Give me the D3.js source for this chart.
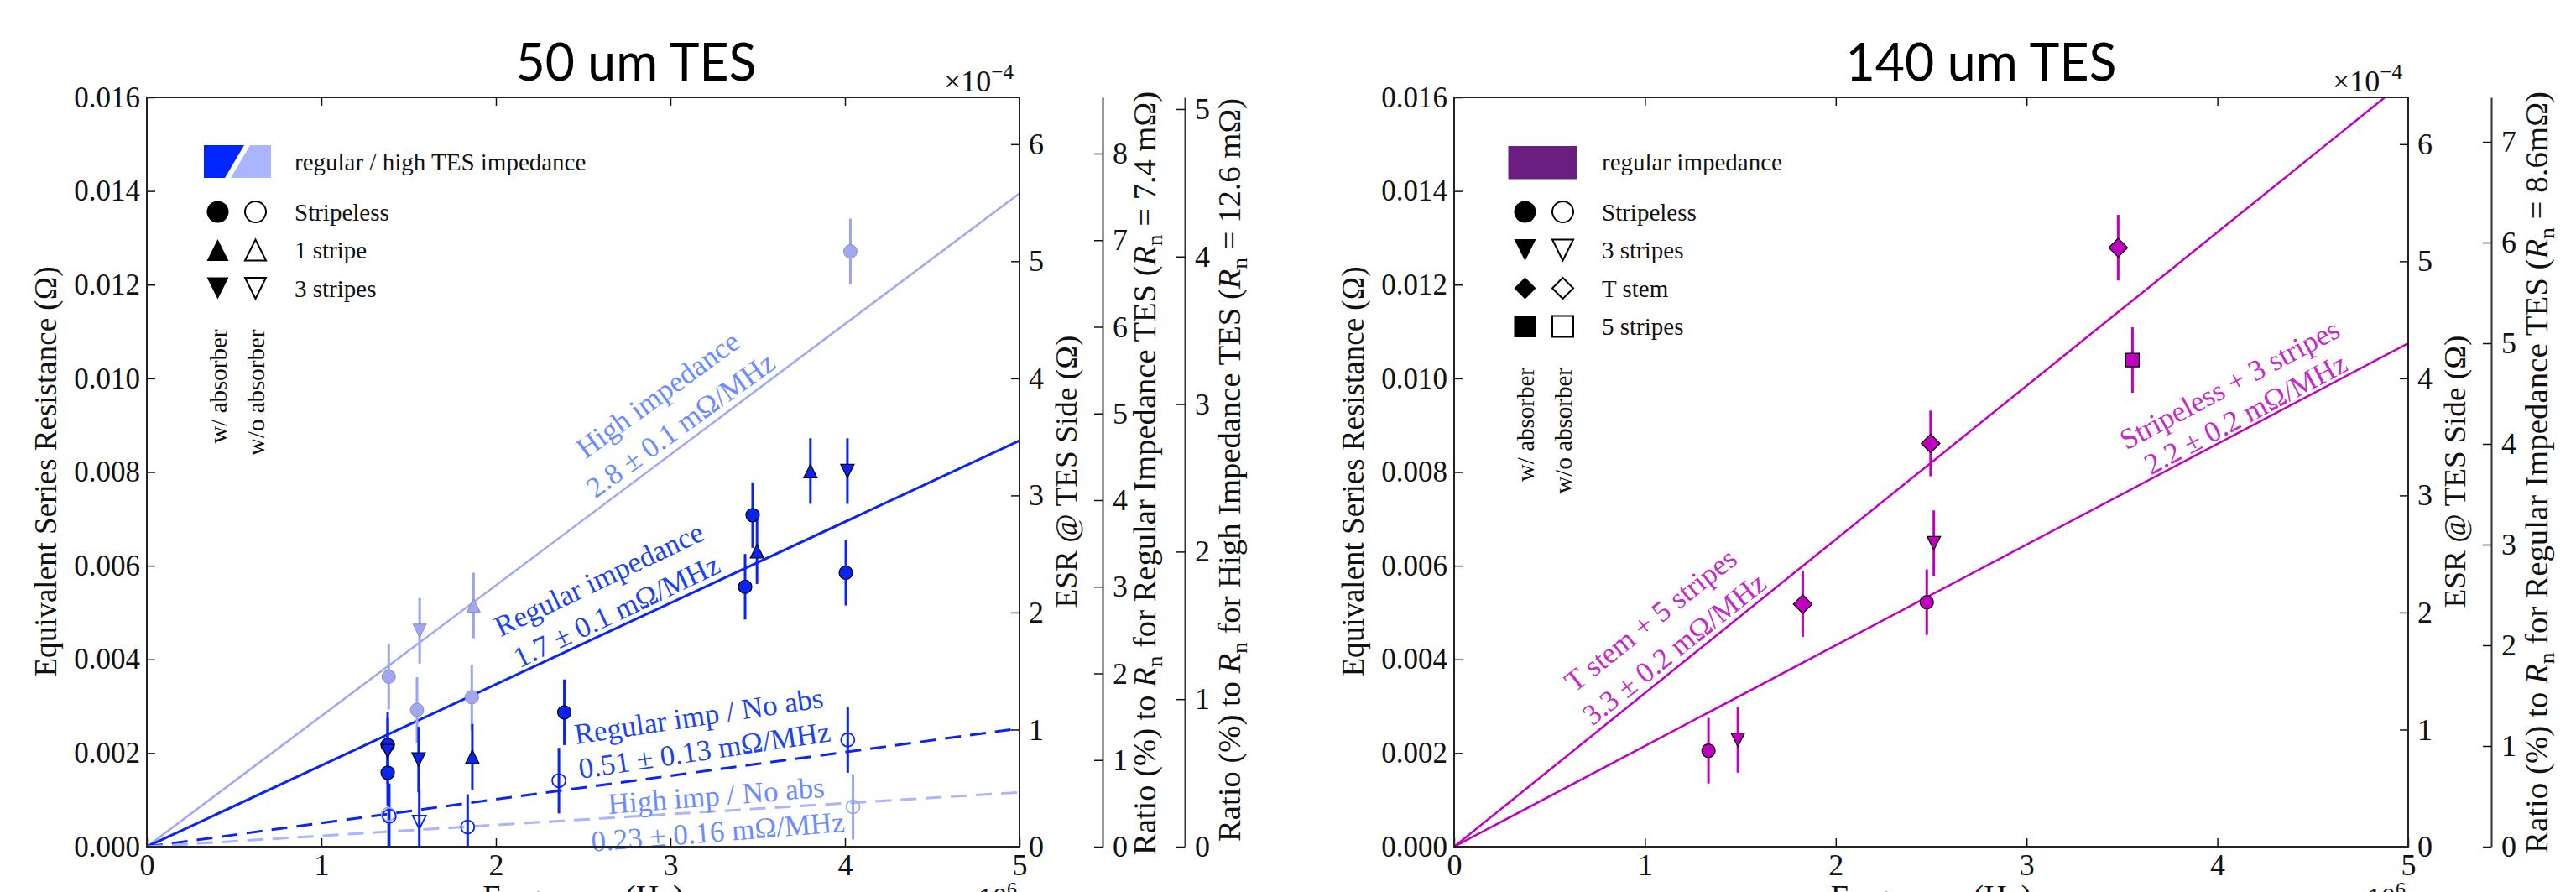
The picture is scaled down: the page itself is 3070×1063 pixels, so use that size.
<!DOCTYPE html>
<html><head><meta charset="utf-8">
<script src="https://cdn.jsdelivr.net/npm/d3@7"></script>
<style>
body{margin:0;background:#fff}
svg{display:block}
</style>
</head><body>
<svg id="c" width="3070" height="1063" font-family="'Liberation Serif','Times New Roman',serif"></svg>
<script>
// ---------------- DATA ----------------
const freqTicks = [0, 1, 2, 3, 4, 5];                 // MHz (x10^6 Hz)
const resTicks = [0, 0.002, 0.004, 0.006, 0.008, 0.010, 0.012, 0.014, 0.016]; // Ohm
const esrTicks = [0, 1, 2, 3, 4, 5, 6];               // x10^-4 Ohm
const ratioRegTicks50 = [0, 1, 2, 3, 4, 5, 6, 7, 8];
const ratioHighTicks50 = [0, 1, 2, 3, 4, 5];
const ratioRegTicks140 = [0, 1, 2, 3, 4, 5, 6, 7];
const rnReg50 = 7.4, rnHigh50 = 12.6, rnReg140 = 8.6; // mOhm
const esrDivisor = 25;

// 50 um TES — regular impedance, with absorber (filled, dark blue)
const f50RegAbs = [1.380, 1.380, 1.380, 1.557, 1.865, 2.392, 3.428, 3.471, 3.496, 3.802, 4.014, 4.005];
const r50RegAbs = [0.00217, 0.00204, 0.00158, 0.00186, 0.00192, 0.00287, 0.00555, 0.00708, 0.00631, 0.00802, 0.00802, 0.00585];
const e50RegAbs = [0.0007, 0.0007, 0.0007, 0.0007, 0.0007, 0.0007, 0.0007, 0.0007, 0.0007, 0.0007, 0.0007, 0.0007];
const m50RegAbs = ["circle", "down", "circle", "down", "up", "circle", "circle", "circle", "up", "up", "down", "circle"];
// 50 um TES — high impedance, with absorber (filled, light)
const f50HighAbs = [1.386, 1.563, 1.548, 1.872, 1.862, 4.031];
const r50HighAbs = [0.00363, 0.00461, 0.00292, 0.00515, 0.00319, 0.01271];
const e50HighAbs = [0.0007, 0.0007, 0.0007, 0.0007, 0.0007, 0.0007];
const m50HighAbs = ["circle", "down", "circle", "up", "circle", "circle"];
// 50 um TES — regular impedance, without absorber (open, dark blue)
const f50RegNoAbs = [1.389, 1.561, 1.838, 2.361, 4.016];
const r50RegNoAbs = [0.00065, 0.00052, 0.00042, 0.00141, 0.00228];
const e50RegNoAbs = [0.0007, 0.0007, 0.0007, 0.0007, 0.0007];
const m50RegNoAbs = ["circle", "down", "circle", "circle", "circle"];
// 50 um TES — high impedance, without absorber (open, light)
const f50HighNoAbs = [1.383, 4.046];
const r50HighNoAbs = [0.00069, 0.00085];
const e50HighNoAbs = [0.0007, 0.0007];
const m50HighNoAbs = ["circle", "circle"];
// 50 um fits (Ohm per MHz)
const fitText50 = ["High impedance", "Regular impedance", "Regular imp / No abs", "High imp / No abs"];
const fitValText50 = ["2.8 ± 0.1 mΩ/MHz", "1.7 ± 0.1 mΩ/MHz", "0.51 ± 0.13 mΩ/MHz", "0.23 ± 0.16 mΩ/MHz"];
const fitSlope50 = [0.00279, 0.001734, 0.000505, 0.000232];

// 140 um TES — regular impedance, with absorber (filled, magenta)
const f140 = [1.333, 1.487, 1.827, 2.477, 2.514, 2.497, 3.480, 3.555];
const r140 = [0.00205, 0.00228, 0.00518, 0.00522, 0.00648, 0.00861, 0.01279, 0.01039];
const e140 = [0.0007, 0.0007, 0.0007, 0.0007, 0.0007, 0.0007, 0.0007, 0.0007];
const m140 = ["circle", "down", "diamond", "circle", "down", "diamond", "diamond", "square"];
const fitText140 = ["T stem + 5 stripes", "Stripeless + 3 stripes"];
const fitValText140 = ["3.3 ± 0.2 mΩ/MHz", "2.2 ± 0.2 mΩ/MHz"];
const fitSlope140 = [0.00328, 0.00215];

const legendShapes50 = ["circle", "up", "down"];
const legendNames50 = ["Stripeless", "1 stripe", "3 stripes"];
const legendShapes140 = ["circle", "down", "diamond", "square"];
const legendNames140 = ["Stripeless", "3 stripes", "T stem", "5 stripes"];

// ---------------- STYLE ----------------
const SERIF = "'Liberation Serif','Times New Roman',serif";
const BLUE = "#0a24f5", BLUE_TXT = "#1c44ee";
const LIGHT_LINE = "#a0a8f5", LIGHT_DASH = "#aab4ff", LIGHT_TXT = "#6b8cff";
const LIGHT_FILL = "#a2a7f1", LIGHT_EDGE = "#8f90ad", LIGHT_ERR = "#9aa3f5";
const MAG = "#c000c0", MAG_TXT = "#c42cc6", PURPLE = "#6a1e80";
const TOP = 116, BOT = 1009;

const svg = d3.select("#c");
const defs = svg.append("defs");

function markerPath(type, s, dk) {
  if (type === "circle") return d3.symbol(d3.symbolCircle, Math.PI * s * s)();
  if (type === "up") return `M0,${-s}L${s},${s}L${-s},${s}Z`;
  if (type === "down") return `M0,${s}L${s},${-s}L${-s},${-s}Z`;
  if (type === "diamond") { const d = s * (dk || 1.4); return `M0,${-d}L${d},0L0,${d}L${-d},0Z`; }
  if (type === "square") return `M${-s},${-s}h${2 * s}v${2 * s}h${-2 * s}Z`;
}

function richText(sel, parts, fs) {
  let shifted = 0;
  parts.forEach(p => {
    const t = sel.append("tspan").text(p.t);
    if (p.i) t.attr("font-style", "italic");
    if (p.sub) { t.attr("font-size", fs * 0.7).attr("dy", fs * 0.22); shifted = fs * 0.22; }
    else if (p.sup) { t.attr("font-size", fs * 0.7).attr("dy", -fs * 0.42); shifted = -fs * 0.42; }
    else if (shifted) { t.attr("dy", -shifted); shifted = 0; }
  });
}

function panel(cfg) {
  const g = svg.append("g").attr("font-family", SERIF);
  const x = d3.scaleLinear().domain([0, 5]).range([cfg.left, cfg.right]);
  const y = d3.scaleLinear().domain([0, 0.016]).range([BOT, TOP]);
  const clipId = "clip" + cfg.id;
  defs.append("clipPath").attr("id", clipId).append("rect")
    .attr("x", cfg.left).attr("y", TOP).attr("width", cfg.right - cfg.left).attr("height", BOT - TOP);
  const plot = g.append("g").attr("clip-path", `url(#${clipId})`);

  // fit lines
  cfg.fits.forEach(f => {
    plot.append("line")
      .attr("x1", x(0)).attr("y1", y(0)).attr("x2", x(5)).attr("y2", y(5 * f.slope))
      .attr("stroke", f.color).attr("stroke-width", f.w)
      .attr("stroke-dasharray", f.dash || null);
  });

  // fit labels
  cfg.fits.forEach(f => {
    f.labels.forEach(L => {
      g.append("text")
        .attr("transform", `translate(${x(L.d)},${y(L.v)}) rotate(${L.a})`)
        .attr("text-anchor", "middle").attr("dy", "0.35em")
        .attr("font-size", 35).attr("fill", f.txt).text(L.t);
    });
  });

  // series: error bars then markers
  cfg.series.forEach(s => {
    const pts = s.f.map((fv, i) => ({ f: fv, r: s.r[i], e: s.e[i], m: s.m[i] }));
    plot.selectAll(null).data(pts).enter().append("line")
      .attr("x1", d => x(d.f)).attr("x2", d => x(d.f))
      .attr("y1", d => y(d.r - d.e)).attr("y2", d => y(d.r + d.e))
      .attr("stroke", s.err).attr("stroke-width", 3);
  });
  cfg.series.forEach(s => {
    const pts = s.f.map((fv, i) => ({ f: fv, r: s.r[i], m: s.m[i] }));
    plot.selectAll(null).data(pts).enter().append("path")
      .attr("transform", d => `translate(${x(d.f)},${y(d.r)})`)
      .attr("d", d => markerPath(d.m, 8))
      .attr("fill", s.fill).attr("stroke", s.stroke).attr("stroke-width", s.sw);
  });

  // axes
  const styleAxis = (a, fs) => {
    a.attr("font-family", SERIF);
    a.selectAll(".tick line").attr("stroke", "#111").attr("stroke-width", 1.5);
    a.selectAll(".tick text").attr("font-size", fs).attr("fill", "#111").attr("font-family", SERIF);
  };
  const ax = g.append("g").attr("transform", `translate(0,${BOT})`)
    .call(d3.axisBottom(x).tickValues(freqTicks).tickFormat(d3.format("d")).tickSize(-10).tickPadding(8));
  ax.select(".domain").remove(); styleAxis(ax, 36);
  const axT = g.append("g").attr("transform", `translate(0,${TOP})`)
    .call(d3.axisTop(x).tickValues(freqTicks.slice(1, -1)).tickFormat("").tickSize(-10));
  axT.select(".domain").remove(); styleAxis(axT, 36);
  const ay = g.append("g").attr("transform", `translate(${cfg.left},0)`)
    .call(d3.axisLeft(y).tickValues(resTicks).tickFormat(d3.format(".3f")).tickSize(-10).tickPadding(8));
  ay.select(".domain").remove(); styleAxis(ay, 35);
  const yEsr = d3.scaleLinear().domain([0, 0.016 / esrDivisor * 1e4]).range([BOT, TOP]);
  const ae = g.append("g").attr("transform", `translate(${cfg.right},0)`)
    .call(d3.axisRight(yEsr).tickValues(esrTicks).tickFormat(d3.format("d")).tickSize(-10).tickPadding(11));
  ae.select(".domain").remove(); styleAxis(ae, 36);

  cfg.ratio.forEach(R => {
    const yr = d3.scaleLinear().domain([0, 0.016 / esrDivisor / (R.rn * 1e-3) * 100]).range([BOT, TOP]);
    const ar = g.append("g").attr("transform", `translate(${R.x},0)`)
      .call(d3.axisRight(yr).tickValues(R.ticks).tickFormat(d3.format("d")).tickSize(-10).tickSizeOuter(0).tickPadding(12));
    ar.select(".domain").attr("stroke", "#333").attr("stroke-width", 2);
    styleAxis(ar, 36);
    const t = g.append("text").attr("transform", `translate(${R.lx},${R.cy}) rotate(-90)`)
      .attr("text-anchor", "middle").attr("dy", "0.35em").attr("font-size", 37).attr("fill", "#111")
      .attr("textLength", R.len).attr("lengthAdjust", "spacingAndGlyphs");
    richText(t, R.parts, 37);
  });

  // spines
  g.append("rect").attr("x", cfg.left).attr("y", TOP).attr("width", cfg.right - cfg.left).attr("height", BOT - TOP)
    .attr("fill", "none").attr("stroke", "#222").attr("stroke-width", 2);

  // axis labels
  g.append("text").attr("transform", `translate(${cfg.left - 121},562) rotate(-90)`)
    .attr("text-anchor", "middle").attr("dy", "0.35em").attr("font-size", 37).attr("fill", "#111")
    .attr("textLength", 489).attr("lengthAdjust", "spacingAndGlyphs")
    .text("Equivalent Series Resistance (Ω)");
  g.append("text").attr("transform", `translate(${cfg.right + 55},562) rotate(-90)`)
    .attr("text-anchor", "middle").attr("dy", "0.35em").attr("font-size", 36).attr("fill", "#111")
    .attr("textLength", 325).attr("lengthAdjust", "spacingAndGlyphs")
    .text("ESR @ TES Side (Ω)");
  g.append("text").attr("x", (cfg.left + cfg.right) / 2).attr("y", 1081)
    .attr("text-anchor", "middle").attr("font-size", 38).attr("fill", "#111").text("Frequency (Hz)");
  const e6 = g.append("text").attr("x", cfg.right - 3).attr("y", 1081).attr("text-anchor", "end")
    .attr("font-size", 34).attr("fill", "#111");
  richText(e6, [{ t: "×10" }, { t: "6", sup: true }], 34);
  const e4 = g.append("text").attr("x", cfg.right - 7).attr("y", 109).attr("text-anchor", "end")
    .attr("font-size", 36).attr("fill", "#111");
  richText(e4, [{ t: "×10" }, { t: "−4", sup: true }], 36);

  // title
  g.append("text").attr("x", cfg.titleX).attr("y", 96).attr("text-anchor", "middle")
    .attr("font-family", "Lato, 'Open Sans', sans-serif").attr("font-size", 62).attr("fill", "#000")
    .attr("textLength", cfg.titleLen).attr("lengthAdjust", "spacingAndGlyphs")
    .text(cfg.title);

  // legend
  const L = g.append("g");
  cfg.patch(L);
  L.append("text").attr("x", cfg.left + 176).attr("y", 193).attr("dy", "0.35em")
    .attr("font-size", 29).attr("fill", "#111").text(cfg.patchText);
  const c1 = cfg.left + 84.5, c2 = cfg.left + 129.5;
  cfg.legShapes.forEach((m, i) => {
    const yy = 252.5 + i * 45.5;
    L.append("path").attr("transform", `translate(${c1},${yy})`).attr("d", markerPath(m, 13, 1.0))
      .attr("fill", "#000");
    L.append("path").attr("transform", `translate(${c2},${yy})`).attr("d", markerPath(m, 12.5, 1.0))
      .attr("fill", "#fff").attr("stroke", "#000").attr("stroke-width", 2);
    L.append("text").attr("x", cfg.left + 176).attr("y", yy).attr("dy", "0.35em")
      .attr("font-size", 29).attr("fill", "#111").text(cfg.legNames[i]);
  });
  const yEnd = 252.5 + (cfg.legShapes.length - 1) * 45.5 + 49;
  [["w/ absorber", c1], ["w/o absorber", c2]].forEach(([t, cx]) => {
    L.append("text").attr("transform", `translate(${cx},${yEnd}) rotate(-90)`)
      .attr("text-anchor", "end").attr("dy", "0.35em").attr("font-size", 29).attr("fill", "#111").text(t);
  });
}

// ---------------- PANELS ----------------
const ratioParts = (kind, rn, sp) => [
  { t: "Ratio (%) to " }, { t: "R", i: true }, { t: "n", sub: true },
  { t: ` for ${kind} Impedance TES (` }, { t: "R", i: true }, { t: "n", sub: true },
  { t: ` = ${rn}${sp}mΩ)` }];

panel({
  id: "a", left: 175, right: 1215, title: "50 um TES", titleX: 758, titleLen: 287,
  fits: [
    { slope: fitSlope50[0], color: LIGHT_LINE, w: 2.5, txt: LIGHT_TXT,
      labels: [{ t: fitText50[0], d: 2.926, v: 0.00966, a: -36 }, { t: fitValText50[0], d: 3.056, v: 0.00901, a: -36 }] },
    { slope: fitSlope50[1], color: BLUE, w: 3, txt: BLUE_TXT,
      labels: [{ t: fitText50[1], d: 2.589, v: 0.00572, a: -25.5 }, { t: fitValText50[1], d: 2.690, v: 0.00504, a: -25.5 }] },
    { slope: fitSlope50[2], color: BLUE, w: 3, dash: "19,11", txt: BLUE_TXT,
      labels: [{ t: fitText50[2], d: 3.162, v: 0.00280, a: -8.5 }, { t: fitValText50[2], d: 3.195, v: 0.00207, a: -8.5 }] },
    { slope: fitSlope50[3], color: LIGHT_DASH, w: 3, dash: "19,11", txt: LIGHT_TXT,
      labels: [{ t: fitText50[3], d: 3.262, v: 0.00110, a: -4.5 }, { t: fitValText50[3], d: 3.272, v: 0.00033, a: -4.5 }] }
  ],
  series: [
    { f: f50HighAbs, r: r50HighAbs, e: e50HighAbs, m: m50HighAbs, fill: LIGHT_FILL, stroke: LIGHT_EDGE, sw: 1, err: LIGHT_ERR },
    { f: f50HighNoAbs, r: r50HighNoAbs, e: e50HighNoAbs, m: m50HighNoAbs, fill: "none", stroke: LIGHT_LINE, sw: 1.8, err: LIGHT_ERR },
    { f: f50RegNoAbs, r: r50RegNoAbs, e: e50RegNoAbs, m: m50RegNoAbs, fill: "none", stroke: BLUE, sw: 1.8, err: BLUE },
    { f: f50RegAbs, r: r50RegAbs, e: e50RegAbs, m: m50RegAbs, fill: BLUE, stroke: "#000", sw: 1.2, err: BLUE }
  ],
  ratio: [
    { x: 1314, rn: rnReg50, ticks: ratioRegTicks50, lx: 1364, cy: 564, len: 910, parts: ratioParts("Regular", rnReg50, " ") },
    { x: 1412, rn: rnHigh50, ticks: ratioHighTicks50, lx: 1465, cy: 560, len: 886, parts: ratioParts("High", rnHigh50, " ") }
  ],
  patch: L => {
    L.append("path").attr("d", "M243,173H291L268,212H243Z").attr("fill", "#0026ff");
    L.append("path").attr("d", "M298,173H323V212H275Z").attr("fill", "#aab4ff");
  },
  patchText: "regular / high TES impedance",
  legShapes: legendShapes50, legNames: legendNames50
});

panel({
  id: "b", left: 1733, right: 2870, title: "140 um TES", titleX: 2361, titleLen: 323,
  fits: [
    { slope: fitSlope140[0], color: MAG, w: 2.5, txt: MAG_TXT,
      labels: [{ t: fitText140[0], d: 1.028, v: 0.00485, a: -38.5 }, { t: fitValText140[0], d: 1.152, v: 0.00423, a: -38.5 }] },
    { slope: fitSlope140[1], color: MAG, w: 2.5, txt: MAG_TXT,
      labels: [{ t: fitText140[1], d: 4.063, v: 0.00988, a: -28 }, { t: fitValText140[1], d: 4.147, v: 0.00925, a: -28 }] }
  ],
  series: [
    { f: f140, r: r140, e: e140, m: m140, fill: MAG, stroke: "#000", sw: 1.2, err: MAG }
  ],
  ratio: [
    { x: 2969, rn: rnReg140, ticks: ratioRegTicks140, lx: 3023, cy: 563, len: 908, parts: ratioParts("Regular", rnReg140, "") }
  ],
  patch: L => {
    L.append("rect").attr("x", 1797.5).attr("y", 174).attr("width", 81.5).attr("height", 39.5).attr("fill", PURPLE);
  },
  patchText: "regular impedance",
  legShapes: legendShapes140, legNames: legendNames140
});
</script>
</body></html>
